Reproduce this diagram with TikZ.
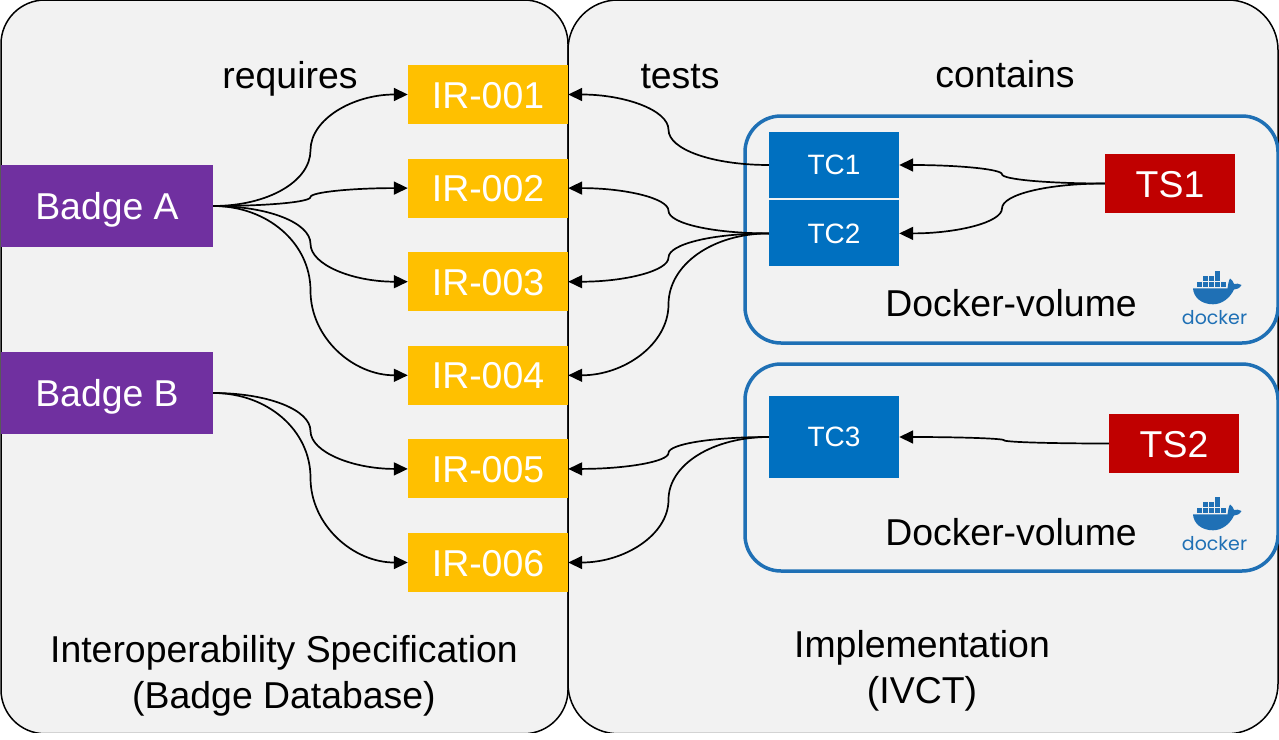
\documentclass[tikz,border=0pt]{standalone}
\usepackage{fontspec}
\setmainfont{Liberation Sans}
\newfontfamily\dockerfont{Poppins}
\usetikzlibrary{positioning,arrows.meta,calc}
\definecolor{panelgray}{HTML}{F2F2F2}
\definecolor{badgepurple}{HTML}{7030A0}
\definecolor{iryellow}{HTML}{FFC000}
\definecolor{tcblue}{HTML}{0070C0}
\definecolor{tsred}{HTML}{C00000}
\definecolor{dockerblue}{HTML}{1F70B5}
\newcommand{\curvedlink}[2]{
  \coordinate (q1) at ($(#1)!0.28!(#2)$);
  \coordinate (q2) at ($(#1)!0.22!(#2)$);
  \coordinate (mid) at ($(#1)!0.5!(#2)$);
  \coordinate (q3) at ($(#1)!0.78!(#2)$);
  \coordinate (q4) at ($(#1)!0.72!(#2)$);
  \draw[arr] (#1) .. controls (q1 |- #1) and (mid |- q2) .. (mid)
    .. controls (mid |- q3) and (q4 |- #2) .. (#2);
}
\tikzset{
  dockerlogo/.pic={
    \foreach \i in {0,1,2,3,4}
      \fill[dockerblue] ({96.5+6*\i},22) rectangle ++(5.3,5.2);
    \foreach \i in {1,2,3}
      \fill[dockerblue] ({96.5+6*\i},16.2) rectangle ++(5.3,5.2);
    \fill[dockerblue] (114.5,10.6) rectangle ++(5.3,5.2);
    \fill[dockerblue] (93,28.3) -- (127.5,28.3) .. controls (128,25) and (128.5,21) .. (130,18.5)
      .. controls (132,20) and (133.5,22) .. (134,24) .. controls (136.5,23.3) and (139,23.5) .. (141.5,25)
      .. controls (139.5,28.5) and (136.5,29.5) .. (134,29.5)
      .. controls (130,38) and (122,44.3) .. (113,44.3)
      .. controls (101,44.3) and (93.5,37) .. cycle;
    \node[text=dockerblue,font=\dockerfont\fontsize{19}{19}\selectfont,inner sep=0pt] at (114.5,58) {docker};
  }
}
\begin{document}
\begin{tikzpicture}[
  x=1pt,y=-1pt,
  panel/.style={draw=black,line width=1.5pt,fill=panelgray,inner sep=0pt,minimum height=733.7pt},
  volume/.style={draw=dockerblue,line width=3.5pt,rounded corners=36pt,inner sep=0pt,minimum width=533pt},
  badge/.style={fill=badgepurple,text=white,inner sep=0pt,minimum width=212pt,minimum height=82pt,text height=27pt,text depth=0pt,font=\fontsize{37.4}{37.4}\selectfont},
  ir/.style={fill=iryellow,text=white,inner sep=0pt,minimum width=160pt,minimum height=59pt,text height=27pt,text depth=0pt,font=\fontsize{37.4}{37.4}\selectfont},
  tc/.style={fill=tcblue,text=white,inner sep=0pt,minimum width=130pt,font=\fontsize{28}{28}\selectfont},
  ts/.style={fill=tsred,text=white,inner sep=0pt,minimum width=130pt,minimum height=59pt,text height=27pt,text depth=0pt,font=\fontsize{37.4}{37.4}\selectfont},
  lbl/.style={inner sep=0pt,align=center,font=\fontsize{37.4}{46}\selectfont},
  arr/.style={-{Triangle[length=14pt,width=13pt]},line width=1.7pt}
]
\useasboundingbox (0,0) rectangle (1279,739);
% straight top and bottom edges fall outside the clip
\begin{scope}
\clip (0,0.9) rectangle (1279,732.8);
\node[panel,rounded corners=44pt,minimum width=567pt] (spec) at (284.5,366.85) {};
\node[panel,rounded corners=50pt,minimum width=710pt] (impl) at (923,366.85) {};
\end{scope}
\node[volume,minimum height=227pt] (vol1) at (1011.5,229.5) {};
\node[volume,minimum height=207pt] (vol2) at (1011.5,467.5) {};

\node[badge] (ba) at (107,206) {Badge A};
\node[badge] (bb) at (107,393) {Badge B};

\node[ir] (ir1) at (488,94.5) {IR-001};
\node[ir,below=34.2pt of ir1] (ir2) {IR-002};
\node[ir,below=34.2pt of ir2] (ir3) {IR-003};
\node[ir,below=34.2pt of ir3] (ir4) {IR-004};
\node[ir,below=34.2pt of ir4] (ir5) {IR-005};
\node[ir,below=34.2pt of ir5] (ir6) {IR-006};

\node[tc,minimum height=66pt] (tc1) at (834,165) {TC1};
\node[tc,minimum height=66pt,below=2pt of tc1] (tc2) {TC2};
\node[tc,minimum height=82pt] (tc3) at (834,437) {TC3};
\node[ts] (ts1) at (1170,183.5) {TS1};
\node[ts] (ts2) at (1174,443.5) {TS2};

\node[lbl] (req) at (290,79) {requires};
\node[lbl] (tst) at (680,77) {tests};
\node[lbl] (con) at (1005,74) {contains};
\node[lbl] (dv1) at (1011,303) {Docker-volume};
\node[lbl] (dv2) at (1011,532) {Docker-volume};
\node[lbl] (specname) at (284,676) {Interoperability Specification\\(Badge Database)};
\node[lbl] (implname) at (922,671) {Implementation\\(IVCT)};

\pic at (1100,260) {dockerlogo};
\pic at (1100,486) {dockerlogo};

\curvedlink{ba.east}{ir1.west}
\curvedlink{ba.east}{ir2.west}
\curvedlink{ba.east}{ir3.west}
\curvedlink{ba.east}{ir4.west}
\curvedlink{bb.east}{ir5.west}
\curvedlink{bb.east}{ir6.west}

\curvedlink{tc1.west}{ir1.east}
\curvedlink{tc2.west}{ir2.east}
\curvedlink{tc2.west}{ir3.east}
\curvedlink{tc2.west}{ir4.east}
\curvedlink{tc3.west}{ir5.east}
\curvedlink{tc3.west}{ir6.east}

\curvedlink{ts1.west}{tc1.east}
\curvedlink{ts1.west}{tc2.east}
\curvedlink{ts2.west}{tc3.east}
\end{tikzpicture}
\end{document}
